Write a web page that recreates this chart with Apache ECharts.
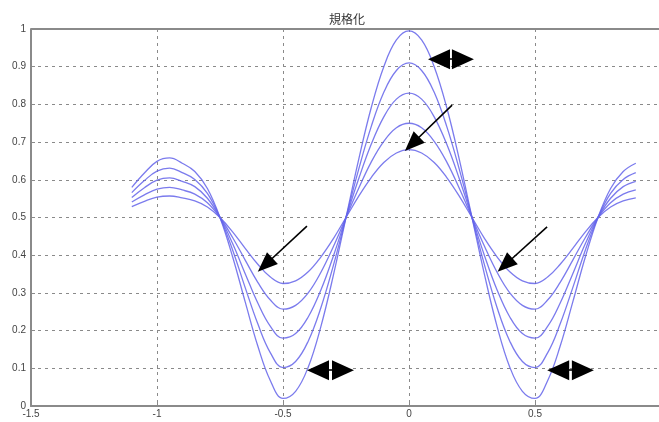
<!DOCTYPE html>
<html>
<head>
<meta charset="utf-8">
<script src="https://cdn.jsdelivr.net/npm/echarts@6/dist/echarts.min.js"></script>
<style>
html,body{margin:0;padding:0;background:#fff;}
#chart{width:659px;height:422px;}
</style>
</head>
<body>
<div id="chart"></div>
<script>
const titleText = '規格化';
const xTicks = [-1.5, -1, -0.5, 0, 0.5, 1];
const xs = [-1.1,-1.05,-1,-0.95,-0.9,-0.85,-0.8,-0.75,-0.7,-0.65,-0.6,-0.55,-0.5,-0.45,-0.4,-0.35,-0.3,-0.25,-0.2,-0.15,-0.1,-0.05,0,0.05,0.1,0.15,0.2,0.25,0.3,0.35,0.4,0.45,0.5,0.55,0.6,0.65,0.7,0.75,0.8,0.85,0.9];
const curve1 = [0.580,0.618,0.649,0.658,0.644,0.622,0.577,0.5,0.396,0.276,0.159,0.067,0.020,0.039,0.103,0.210,0.347,0.5,0.653,0.791,0.900,0.971,0.995,0.971,0.900,0.791,0.653,0.5,0.347,0.210,0.103,0.039,0.020,0.067,0.159,0.276,0.396,0.5,0.577,0.622,0.644];
const curve2 = [0.566,0.598,0.623,0.631,0.619,0.601,0.564,0.5,0.414,0.314,0.218,0.141,0.102,0.118,0.172,0.260,0.373,0.5,0.627,0.741,0.832,0.890,0.910,0.890,0.832,0.741,0.627,0.5,0.373,0.260,0.172,0.118,0.102,0.141,0.218,0.314,0.414,0.5,0.564,0.601,0.619];
const curve3 = [0.553,0.579,0.599,0.605,0.596,0.582,0.551,0.5,0.431,0.351,0.273,0.211,0.180,0.192,0.236,0.307,0.398,0.5,0.602,0.694,0.767,0.814,0.830,0.814,0.767,0.694,0.602,0.5,0.398,0.307,0.236,0.192,0.180,0.211,0.273,0.351,0.431,0.5,0.551,0.582,0.596];
const curve4 = [0.541,0.560,0.575,0.580,0.573,0.562,0.539,0.5,0.447,0.387,0.328,0.281,0.257,0.267,0.300,0.354,0.423,0.5,0.577,0.647,0.702,0.738,0.750,0.738,0.702,0.647,0.577,0.5,0.423,0.354,0.300,0.267,0.257,0.281,0.328,0.387,0.447,0.5,0.539,0.562,0.573];
const curve5 = [0.529,0.543,0.554,0.557,0.552,0.544,0.528,0.5,0.462,0.418,0.376,0.342,0.325,0.332,0.356,0.395,0.444,0.5,0.556,0.606,0.646,0.671,0.680,0.671,0.646,0.606,0.556,0.5,0.444,0.395,0.356,0.332,0.325,0.342,0.376,0.418,0.462,0.5,0.528,0.544,0.552];
const curves = [curve1, curve2, curve3, curve4, curve5];

// annotation arrows in data coordinates: [x1, y1, x2, y2]
const doubleArrows = [[0.119, 0.92, 0.214, 0.92], [-0.361, 0.095, -0.262, 0.095], [0.592, 0.095, 0.690, 0.095]];
const singleArrows = [[0.171, 0.798, 0.012, 0.695], [-0.405, 0.477, -0.571, 0.374], [0.548, 0.475, 0.381, 0.374]];

const chart = echarts.init(document.getElementById('chart'));
const gridColor = '#8a8a8a';
const series = curves.map(c => ({
  type: 'line',
  data: xs.map((x, i) => [x, c[i]]),
  smooth: 0.4,
  showSymbol: false,
  lineStyle: { color: '#6464ea', width: 1.3, opacity: 0.85 },
  z: 2
}));
const mlData = [];
doubleArrows.forEach(a => {
  mlData.push([
    { coord: [a[0], a[1]], symbol: 'triangle', symbolSize: [20, 22] },
    { coord: [a[2], a[3]], symbol: 'triangle', symbolSize: [20, 22] }
  ]);
});
singleArrows.forEach(a => {
  mlData.push([
    { coord: [a[0], a[1]], symbol: 'none' },
    { coord: [a[2], a[3]], symbol: 'triangle', symbolSize: [16, 20] }
  ]);
});
series.push({
  type: 'line',
  data: [],
  markLine: {
    silent: true,
    animation: false,
    label: { show: false },
    lineStyle: { color: '#000', width: 1.6, type: 'solid' },
    itemStyle: { color: '#000' },
    data: mlData
  },
  z: 5
});

chart.setOption({
  animation: false,
  backgroundColor: '#fff',
  title: {
    text: titleText,
    left: 342,
    top: 8,
    textAlign: 'center',
    textStyle: { fontSize: 12, fontWeight: 'normal', color: '#333', fontFamily: 'Noto Sans CJK JP' }
  },
  grid: { left: 31, top: 29, width: 630, height: 377, outerBoundsMode: 'none', containLabel: false },
  xAxis: {
    type: 'value', min: -1.5, max: 1, interval: 0.5,
    axisLine: { show: true, onZero: false, lineStyle: { color: gridColor, width: 2 } },
    axisTick: { show: true, inside: true, length: 4, lineStyle: { color: gridColor } },
    axisLabel: { color: '#444', fontSize: 10, margin: 3, fontFamily: 'Liberation Sans',
      formatter: v => String(v) },
    splitLine: { show: true, lineStyle: { color: gridColor, type: [3, 4], width: 1 } }
  },
  yAxis: {
    type: 'value', min: 0, max: 1, interval: 0.1,
    axisLine: { show: true, onZero: false, lineStyle: { color: gridColor, width: 2 } },
    axisTick: { show: true, inside: true, length: 4, lineStyle: { color: gridColor } },
    axisLabel: { color: '#444', fontSize: 10, margin: 5, fontFamily: 'Liberation Sans',
      formatter: v => String(Math.round(v * 10) / 10) },
    splitLine: { show: true, lineStyle: { color: gridColor, type: [3, 4], width: 1 } }
  },
  graphic: [{
    type: 'line', silent: true, z: 10,
    shape: { x1: 31, y1: 29, x2: 661, y2: 29 },
    style: { stroke: gridColor, lineWidth: 2 }
  }],
  series: series
});
</script>
</body>
</html>
